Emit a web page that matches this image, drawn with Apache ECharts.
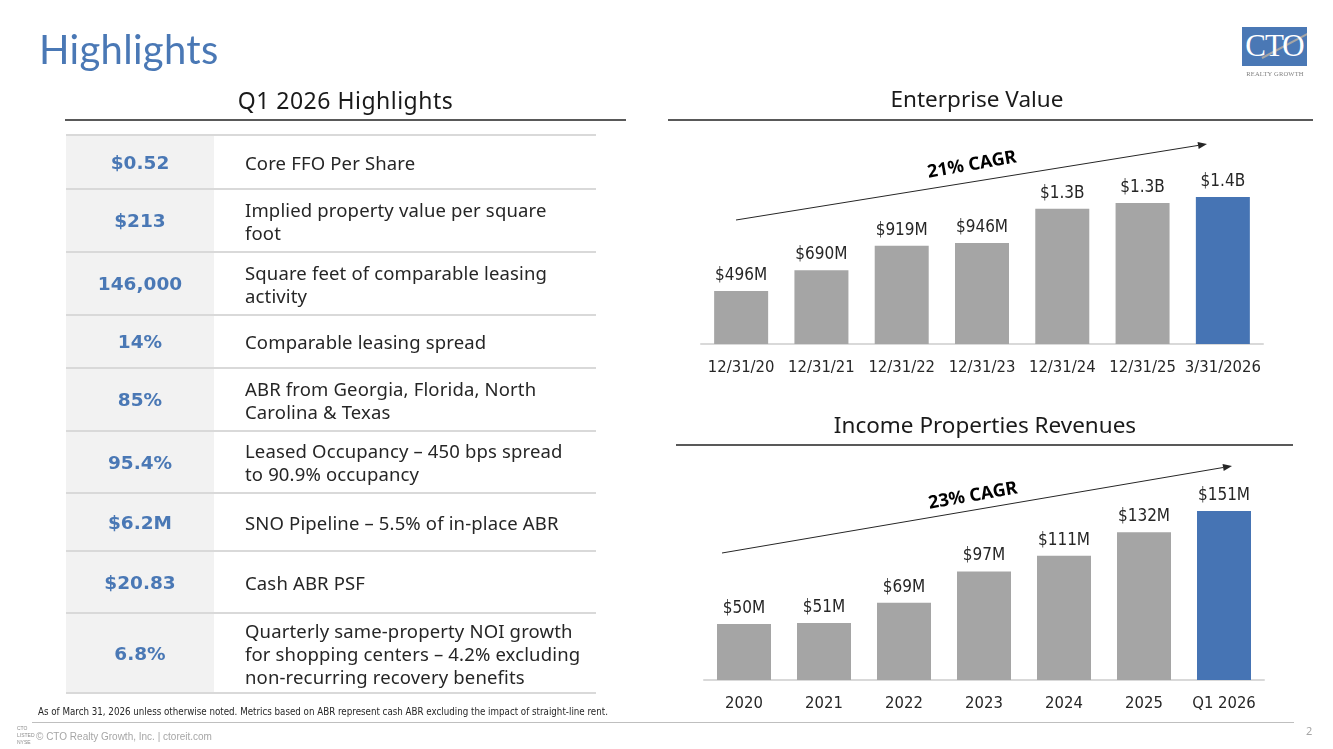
<!DOCTYPE html>
<html>
<head>
<meta charset="utf-8">
<script src="https://cdn.jsdelivr.net/npm/echarts@6/dist/echarts.min.js"></script>
<style>
  html, body { margin:0; padding:0; background:#fff; width:1333px; height:749px; overflow:hidden; }
  body { position:relative; font-family:'Noto Sans','Lato',sans-serif; color:#262626; }
  #chart { position:absolute; left:0; top:0; width:1333px; height:749px; }
  .abs { position:absolute; }
  #title { left:39px; top:25px; font-size:40px; color:#4a78b5; font-family:'Lato','Noto Sans',sans-serif; letter-spacing:0.3px; }
  #subtitle { left:65px; width:561px; top:84px; text-align:center; font-size:23px; letter-spacing:0.5px; color:#1a1a1a; font-family:'Noto Sans',sans-serif; }
  #subline { left:65px; top:119px; width:561px; height:2px; background:#595959; }
  #table { left:66px; top:134px; width:530px; border-top:2px solid #d9d9d9; }
  .row { display:flex; border-bottom:2px solid #d9d9d9; box-sizing:border-box; }
  .val { width:148px; background:#f2f2f2; display:flex; align-items:center; justify-content:center; font-weight:bold; font-size:18.5px; color:#4a78b5; font-family:'DejaVu Sans','Noto Sans',sans-serif; }
  .desc { flex:1; padding-left:31px; display:flex; align-items:center; font-size:18.5px; letter-spacing:0.15px; line-height:23px; color:#262626; }
  #note { left:38px; top:706px; font-size:9.7px; color:#262626; font-family:'Liberation Sans Narrow','DejaVu Sans Condensed',sans-serif; }
  #footline { left:32px; top:722px; width:1262px; height:1px; background:#bfbfbf; }
  #copy { left:36px; top:731px; font-size:10px; color:#a6a6a6; font-family:'Liberation Sans','Arial',sans-serif; }
  #pgnum { left:1306px; top:723px; font-size:11px; color:#a6a6a6; }
  #mini { left:17px; top:725px; width:16px; font-size:5px; line-height:7px; color:#8c8c8c; font-family:'Liberation Sans',sans-serif; }
  #logo { left:1242px; top:27px; width:65px; height:39px; background:#4a78b5; overflow:hidden; }
  #logo span { position:absolute; left:0; width:65px; top:1px; text-align:center; color:#fff; font-family:'Liberation Serif','DejaVu Serif',serif; font-size:31px; letter-spacing:-1px; }
  #logo i { position:absolute; left:20px; top:30px; width:60px; height:2px; background:#a6a6a6; transform:rotate(-28deg); transform-origin:left center; }
  #logo2 { left:1240px; top:70px; width:70px; text-align:center; font-size:6.5px; color:#7f7f7f; font-family:'Liberation Serif','DejaVu Serif',serif; letter-spacing:0.2px; }
</style>
</head>
<body>
<div id="chart"></div>
<div class="abs" id="title">Highlights</div>
<div class="abs" id="subtitle">Q1 2026 Highlights</div>
<div class="abs" id="subline"></div>
<div class="abs" id="table"></div>
<div class="abs" id="note">As of March 31, 2026 unless otherwise noted. Metrics based on ABR represent cash ABR excluding the impact of straight-line rent.</div>
<div class="abs" id="footline"></div>
<div class="abs" id="mini">CTO<br>LISTED<br>NYSE</div>
<div class="abs" id="copy">© CTO Realty Growth, Inc. | ctoreit.com</div>
<div class="abs" id="pgnum">2</div>
<div class="abs" id="logo"><i></i><span>CTO</span></div>
<div class="abs" id="logo2">REALTY GROWTH</div>
<script>
// ---- data ----
const evCategories = ['12/31/20','12/31/21','12/31/22','12/31/23','12/31/24','12/31/25','3/31/2026'];
const evValues = [496, 690, 919, 946, 1265, 1320, 1375];
const evLabels = ['$496M','$690M','$919M','$946M','$1.3B','$1.3B','$1.4B'];
const revCategories = ['2020','2021','2022','2023','2024','2025','Q1 2026'];
const revValues = [50, 51, 69, 97, 111, 132, 151];
const revLabels = ['$50M','$51M','$69M','$97M','$111M','$132M','$151M'];
const highlightValues = ['$0.52','$213','146,000','14%','85%','95.4%','$6.2M','$20.83','6.8%'];
const highlightTexts = [
  'Core FFO Per Share',
  'Implied property value per square foot',
  'Square feet of comparable leasing activity',
  'Comparable leasing spread',
  'ABR from Georgia, Florida, North Carolina &amp; Texas',
  'Leased Occupancy – 450 bps spread to 90.9% occupancy',
  'SNO Pipeline – 5.5% of in-place ABR',
  'Cash ABR PSF',
  'Quarterly same-property NOI growth for shopping centers – 4.2% excluding non-recurring recovery benefits'
];
const rowHeights = [54, 63, 63, 53, 63, 62, 58, 62, 80];

// ---- table ----
const tbl = document.getElementById('table');
highlightValues.forEach((v, i) => {
  const r = document.createElement('div');
  r.className = 'row';
  r.style.height = rowHeights[i] + 'px';
  r.innerHTML = '<div class="val">' + v + '</div><div class="desc"><div style="width:338px">' + highlightTexts[i] + '</div></div>';
  tbl.appendChild(r);
});

// ---- chart ----
const chart = echarts.init(document.getElementById('chart'));
const GRAY = '#a5a5a5', BLUE = '#4674b4';
const labelFont = "'Liberation Sans Narrow','DejaVu Sans Condensed',sans-serif";

function arrow(x1, y1, x2, y2) {
  const dx = x2 - x1, dy = y2 - y1, L = Math.hypot(dx, dy);
  const ux = dx / L, uy = dy / L, nx = -uy, ny = ux;
  const hl = 9, hw = 3.5;
  const bx = x2 - ux * hl, by = y2 - uy * hl;
  return [
    { type:'line', shape:{ x1, y1, x2:bx, y2:by }, style:{ stroke:'#262626', lineWidth:1 } },
    { type:'polygon', shape:{ points:[[x2,y2],[bx+nx*hw,by+ny*hw],[bx-nx*hw,by-ny*hw]] }, style:{ fill:'#262626' } }
  ];
}

function barSeries(values, labels, xi) {
  return {
    type:'bar', xAxisIndex:xi, yAxisIndex:xi, barWidth:54,
    data: values.map((v, i) => ({ value:v, itemStyle:{ color: i === values.length - 1 ? BLUE : GRAY } })),
    label:{ show:true, position:'top', distance:7, fontSize:17, color:'#262626', fontFamily:labelFont,
            formatter: p => labels[p.dataIndex] },
    silent:true
  };
}

const xCommon = {
  type:'category',
  axisLine:{ lineStyle:{ color:'#d9d9d9', width:2 } },
  axisTick:{ show:false },
  axisLabel:{ fontSize:16.5, color:'#262626', margin:15, fontFamily:labelFont, interval:0 }
};

const titleStyle = { fill:'#1a1a1a', fontSize:22.5, fontFamily:'Noto Sans', align:'center', verticalAlign:'middle' };
const cagrStyle = { fill:'#000', fontSize:18, fontWeight:'bold', fontFamily:'Noto Sans', align:'center', verticalAlign:'middle' };

chart.setOption({
  animation:false,
  grid:[
    { left:701, top:173, width:562, height:171 },
    { left:704, top:501, width:560, height:179 }
  ],
  xAxis:[
    Object.assign({ gridIndex:0, data:evCategories }, xCommon),
    Object.assign({ gridIndex:1, data:revCategories }, xCommon)
  ],
  yAxis:[
    { gridIndex:0, type:'value', min:0, max:1600, show:false, splitLine:{ show:false } },
    { gridIndex:1, type:'value', min:0, max:160, show:false, splitLine:{ show:false } }
  ],
  series:[ barSeries(evValues, evLabels, 0), barSeries(revValues, revLabels, 1) ],
  graphic:[
    { type:'text', x:977, y:101, style:Object.assign({ text:'Enterprise Value' }, titleStyle) },
    { type:'rect', shape:{ x:668, y:119, width:645, height:2 }, style:{ fill:'#595959' } },
    { type:'text', x:985, y:427, style:Object.assign({ text:'Income Properties Revenues' }, titleStyle) },
    { type:'rect', shape:{ x:676, y:444, width:617, height:2 }, style:{ fill:'#595959' } },
    ...arrow(736, 220, 1207, 144),
    ...arrow(722, 553, 1232, 466),
    { type:'text', x:972, y:165, rotation:10 * Math.PI / 180, style:Object.assign({ text:'21% CAGR' }, cagrStyle) },
    { type:'text', x:973, y:496, rotation:10 * Math.PI / 180, style:Object.assign({ text:'23% CAGR' }, cagrStyle) }
  ]
});
</script>
</body>
</html>
